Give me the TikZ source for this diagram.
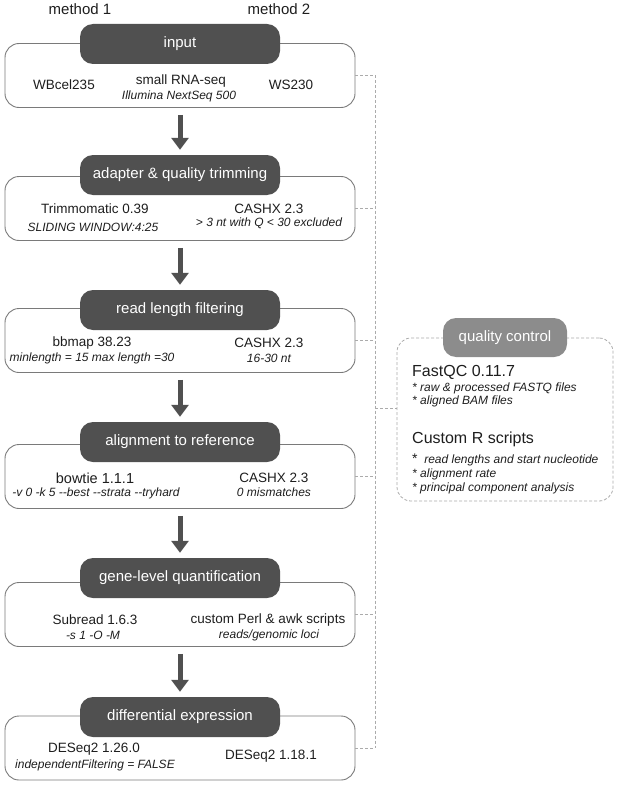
\documentclass[tikz,border=0pt]{standalone}
\usepackage{fontspec}
\setmainfont{Liberation Sans}
\usetikzlibrary{arrows.meta}
\definecolor{pillc}{HTML}{505050}
\definecolor{qcc}{HTML}{8C8C8C}
\definecolor{boxc}{HTML}{7A7A7A}
\definecolor{dashc}{HTML}{ABABAB}
\definecolor{txt}{HTML}{1E1E1E}
\begin{document}
\begin{tikzpicture}[x=1pt,y=-1pt,
  outerbox/.style={draw=boxc, line width=0.9pt, rounded corners=14pt, minimum width=350pt, minimum height=64pt, inner sep=0pt},
  pill/.style={fill=pillc, rounded corners=13pt, minimum width=200pt, minimum height=40pt, text=white, font=\fontsize{15}{18}\selectfont, inner sep=0pt},
  qcpill/.style={pill, fill=qcc, minimum width=124pt, minimum height=39pt},
  body/.style={font=\fontsize{13.5}{16}\selectfont, inner sep=0pt, text=txt},
  note/.style={font=\fontsize{12}{14}\selectfont\itshape, inner sep=0pt, text=txt},
  head/.style={font=\fontsize{15}{18}\selectfont, inner sep=0pt, text=txt},
  qchead/.style={font=\fontsize{16}{19}\selectfont, inner sep=0pt, text=txt, anchor=base west},
  qcnote/.style={note, anchor=base west},
  arr/.style={draw=pillc, line width=5pt, -{Triangle[width=17pt,length=12pt]}},
  dashline/.style={draw=dashc, line width=0.8pt, dash pattern=on 3pt off 2pt},
  qcbox/.style={draw=dashc, line width=0.8pt, dash pattern=on 3pt off 2pt, rounded corners=14pt, minimum width=216pt, minimum height=163pt, inner sep=0pt}
]
\useasboundingbox (0,0) rectangle (617,789);

% method labels
\node[head] (m1) at (80,9) {method 1};
\node[head] (m2) at (279,9) {method 2};

% boxes
\node[outerbox] (b1) at (180,75.5) {};
\node[pill] (p1) at (180,44) {input};
\node[body] (t1a) at (64,85) {WBcel235};
\node[body] (t1b) at (181,81) {small RNA-seq};
\node[note] (t1c) at (179,96.5) {Illumina NextSeq 500};
\node[body] (t1d) at (291,85) {WS230};

\node[outerbox] (b2) at (180,208.5) {};
\node[pill] (p2) at (180,175) {adapter \& quality trimming};
\node[body] (t2a) at (95,208.5) {Trimmomatic 0.39};
\node[note] (t2b) at (93,227) {SLIDING WINDOW:4:25};
\node[body] (t2c) at (269,208.5) {CASHX 2.3};
\node[note] (t2d) at (269,223) {> 3 nt with Q < 30 excluded};

\node[outerbox] (b3) at (180,340.5) {};
\node[pill] (p3) at (180,310) {read length filtering};
\node[body] (t3a) at (92,343) {bbmap 38.23};
\node[note] (t3b) at (92,358) {minlength = 15 max length =30};
\node[body] (t3c) at (269,343) {CASHX 2.3};
\node[note] (t3d) at (269,358) {16-30 nt};

\node[outerbox] (b4) at (180,476.5) {};
\node[pill] (p4) at (180,442) {alignment to reference};
\node[body, font=\fontsize{14.5}{17}\selectfont] (t4a) at (95,478) {bowtie 1.1.1};
\node[note] (t4b) at (96,493) {-v 0 -k 5 -{}-best -{}-strata -{}-tryhard};
\node[body] (t4c) at (274,478) {CASHX 2.3};
\node[note] (t4d) at (274,492) {0 mismatches};

\node[outerbox] (b5) at (180,614.5) {};
\node[pill] (p5) at (180,578) {gene-level quantification};
\node[body] (t5a) at (95,620) {Subread 1.6.3};
\node[note] (t5b) at (93,635) {-s 1 -O -M};
\node[body] (t5c) at (268,620) {custom Perl \& awk scripts};
\node[note] (t5d) at (269,635) {reads/genomic loci};

\node[outerbox] (b6) at (180,748) {};
\node[pill] (p6) at (180,717) {differential expression};
\node[body] (t6a) at (94,749) {DESeq2 1.26.0};
\node[note] (t6b) at (95,765) {independentFiltering = FALSE};
\node[body] (t6c) at (271,756) {DESeq2 1.18.1};

% arrows
\draw[arr] ([yshift=-7pt]b1.south) -- ([yshift=5pt]p2.north);
\draw[arr] ([yshift=-7pt]b2.south) -- ([yshift=5pt]p3.north);
\draw[arr] ([yshift=-7pt]b3.south) -- ([yshift=5pt]p4.north);
\draw[arr] ([yshift=-7pt]b4.south) -- ([yshift=5pt]p5.north);
\draw[arr] ([yshift=-7pt]b5.south) -- ([yshift=5pt]p6.north);

% quality control
\node[qcbox] (qc) at (505,419.5) {};
\node[qcpill] (qp) at (505,337.5) {quality control};
\node[qchead] (q1) at (412,376) {FastQC 0.11.7};
\node[qcnote] (q2) at (412,391) {* raw \& processed FASTQ files};
\node[qcnote] (q3) at (412,404) {* aligned BAM files};
\node[qchead] (q4) at (412,443) {Custom R scripts};
\node[qcnote] (q5) at (412,463) {{\upshape\fontsize{14}{14}\selectfont *}\ \ read lengths and start nucleotide};
\node[qcnote] (q6) at (412,477) {* alignment rate};
\node[qcnote] (q7) at (412,491) {* principal component analysis};

% dashed connectors
\coordinate (c1) at (375,75.5);
\coordinate (c2) at (375,208.5);
\coordinate (c3) at (375,340.5);
\coordinate (c4) at (375,476.5);
\coordinate (c5) at (375,614.5);
\coordinate (c6) at (375,748);
\coordinate (cq) at (375,408);
\draw[dashline] (c1) -- (c6);
\draw[dashline] (b1.east) -- (c1);
\draw[dashline] (b2.east) -- (c2);
\draw[dashline] (b3.east) -- (c3);
\draw[dashline] (b4.east) -- (c4);
\draw[dashline] (b5.east) -- (c5);
\draw[dashline] (b6.east) -- (c6);
\draw[dashline] (cq) -- (cq -| qc.west);
\end{tikzpicture}
\end{document}
